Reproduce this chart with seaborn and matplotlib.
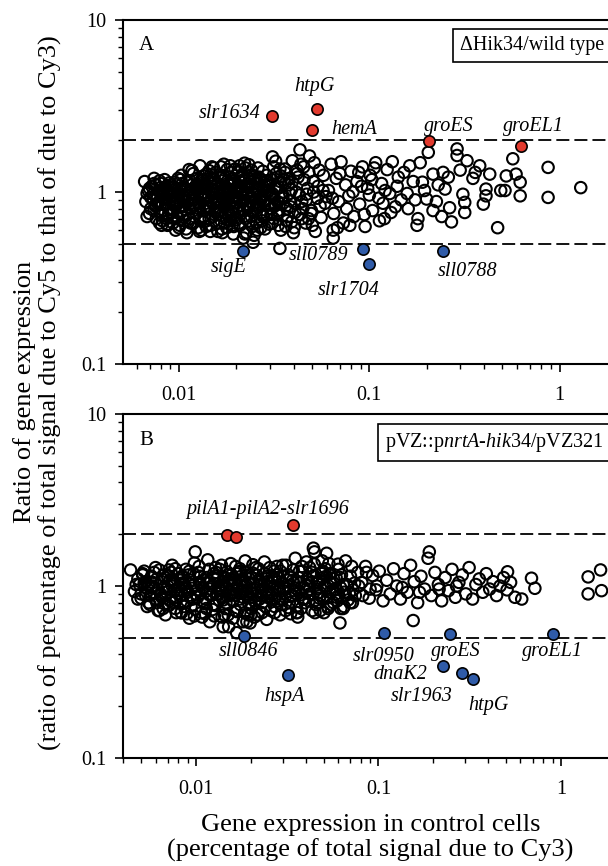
import numpy as np
import seaborn as sns
import matplotlib
matplotlib.use("Agg")
import matplotlib.pyplot as plt
from matplotlib.ticker import FuncFormatter, LogLocator

# ---------------- Panel A data (dHik34 / wild type) ----------------
a_x = [
    0.0066, 0.0068, 0.0070, 0.0071, 0.0073, 0.0074, 0.0076, 0.0078, 0.0079, 0.0081,
    0.0082, 0.0084, 0.0085, 0.0087, 0.0088, 0.0090, 0.0091, 0.0093, 0.0094, 0.0096,
    0.0067, 0.0072, 0.0077, 0.0080, 0.0083, 0.0086, 0.0089, 0.0092, 0.0095, 0.0098,
    0.0069, 0.0075, 0.0079, 0.0084, 0.0087, 0.0091, 0.0094, 0.0097, 0.0099, 0.0100,
    0.0101, 0.0103, 0.0105, 0.0107, 0.0109, 0.0111, 0.0113, 0.0115, 0.0117, 0.0119,
    0.0121, 0.0123, 0.0125, 0.0127, 0.0129, 0.0131, 0.0133, 0.0135, 0.0137, 0.0140,
    0.0142, 0.0145, 0.0147, 0.0150, 0.0152, 0.0155, 0.0157, 0.0160, 0.0162, 0.0165,
    0.0167, 0.0170, 0.0172, 0.0175, 0.0178, 0.0180, 0.0183, 0.0186, 0.0189, 0.0192,
    0.0195, 0.0198, 0.0104, 0.0112, 0.0118, 0.0126, 0.0134, 0.0141, 0.0148, 0.0156,
    0.0163, 0.0171, 0.0179, 0.0187, 0.0194, 0.0108, 0.0122, 0.0138, 0.0153, 0.0168,
    0.0181, 0.0196, 0.0114, 0.0129, 0.0144, 0.0159, 0.0174, 0.0190, 0.0106, 0.0136,
    0.0201, 0.0205, 0.0209, 0.0213, 0.0217, 0.0221, 0.0226, 0.0230, 0.0235, 0.0240,
    0.0245, 0.0250, 0.0255, 0.0260, 0.0266, 0.0271, 0.0277, 0.0283, 0.0289, 0.0295,
    0.0301, 0.0308, 0.0315, 0.0322, 0.0329, 0.0336, 0.0343, 0.0203, 0.0219, 0.0238,
    0.0253, 0.0269, 0.0286, 0.0304, 0.0324, 0.0211, 0.0232, 0.0248, 0.0263, 0.0280,
    0.0298, 0.0318, 0.0339, 0.0224, 0.0258, 0.0292, 0.0331, 0.0216, 0.0274, 0.0312,
    0.0245, 0.0339, 0.0218, 0.0432, 0.0310, 0.0646, 0.0646,
    0.0352, 0.0360, 0.0368, 0.0376, 0.0385, 0.0394, 0.0403, 0.0412, 0.0422, 0.0432,
    0.0442, 0.0452, 0.0463, 0.0474, 0.0485, 0.0496, 0.0508, 0.0520, 0.0532, 0.0545,
    0.0558, 0.0571, 0.0585, 0.0356, 0.0381, 0.0407, 0.0437, 0.0468, 0.0502, 0.0538,
    0.0574, 0.0364, 0.0390, 0.0417, 0.0447, 0.0479, 0.0514, 0.0551, 0.0592, 0.0399,
    0.061, 0.063, 0.065, 0.067, 0.069, 0.071, 0.073, 0.075, 0.078, 0.080,
    0.083, 0.086, 0.089, 0.092, 0.095, 0.098, 0.101, 0.104, 0.108, 0.112,
    0.116, 0.120, 0.124, 0.128, 0.132, 0.137, 0.142, 0.147, 0.064, 0.070,
    0.076, 0.082, 0.088, 0.094, 0.100, 0.106, 0.113, 0.121, 0.130, 0.140,
    0.068, 0.079, 0.091, 0.103, 0.118,
    0.152, 0.158, 0.163, 0.170, 0.174, 0.178, 0.180, 0.190, 0.200, 0.204,
    0.216, 0.216, 0.244, 0.250, 0.264, 0.270, 0.289, 0.289, 0.310, 0.317,
    0.317, 0.326, 0.380, 0.397, 0.410, 0.410, 0.429, 0.472, 0.490, 0.516,
    0.524, 0.567, 0.590, 0.620, 0.620, 0.869, 0.869, 1.290, 0.230, 0.350,
    0.185, 0.225, 0.260, 0.300, 0.160, 0.195, 0.240, 0.360,
    # denser core
    0.0070, 0.0073, 0.0076, 0.0079, 0.0082, 0.0085, 0.0088, 0.0091, 0.0094, 0.0097,
    0.0071, 0.0074, 0.0077, 0.0080, 0.0083, 0.0086, 0.0089, 0.0092, 0.0095, 0.0098,
    0.0102, 0.0106, 0.0110, 0.0114, 0.0118, 0.0122, 0.0126, 0.0130, 0.0134, 0.0138,
    0.0103, 0.0107, 0.0111, 0.0115, 0.0119, 0.0123, 0.0127, 0.0131, 0.0135, 0.0139,
    0.0143, 0.0147, 0.0151, 0.0155, 0.0159, 0.0163, 0.0167, 0.0171, 0.0175, 0.0179,
    0.0144, 0.0148, 0.0152, 0.0156, 0.0160, 0.0164, 0.0168, 0.0172, 0.0176, 0.0180,
    0.0184, 0.0188, 0.0192, 0.0196, 0.0200, 0.0205, 0.0210, 0.0215, 0.0220, 0.0225,
    0.0185, 0.0189, 0.0193, 0.0197, 0.0202, 0.0207, 0.0212, 0.0218, 0.0223, 0.0229,
    0.0231, 0.0237, 0.0243, 0.0249, 0.0256, 0.0263, 0.0270, 0.0277, 0.0284, 0.0291,
    0.0234, 0.0241, 0.0248, 0.0255, 0.0262, 0.0269, 0.0276, 0.0283, 0.0290, 0.0297,
    0.0300, 0.0308, 0.0316, 0.0325, 0.0334, 0.0343, 0.0352, 0.0362, 0.0372, 0.0382,
    0.0306, 0.0314, 0.0323, 0.0332, 0.0341, 0.0350, 0.0360, 0.0370, 0.0380, 0.0391,
    0.0393, 0.0405, 0.0417, 0.0429, 0.0441, 0.0454, 0.0467, 0.0481, 0.0495, 0.0510,
    0.0074, 0.0087, 0.0101, 0.0117, 0.0132, 0.0149, 0.0166, 0.0186, 0.0208, 0.0233,
    0.0068, 0.0081, 0.0096, 0.0110, 0.0128, 0.0146, 0.0169, 0.0193, 0.0222, 0.0258,
    0.0075, 0.0078, 0.0081, 0.0084, 0.0087, 0.0090, 0.0093, 0.0096, 0.0099, 0.0102,
    0.0105, 0.0108, 0.0111, 0.0114, 0.0117, 0.0120, 0.0124, 0.0128, 0.0132, 0.0136,
    0.0140, 0.0144, 0.0148, 0.0153, 0.0158, 0.0163, 0.0168, 0.0173, 0.0178, 0.0183,
    0.0188, 0.0194, 0.0200, 0.0206, 0.0212, 0.0218, 0.0224, 0.0231, 0.0238, 0.0245,
    0.0252, 0.0259, 0.0267, 0.0275, 0.0283, 0.0291, 0.0300, 0.0309, 0.0318, 0.0328,
    0.0120, 0.0135, 0.0150, 0.0165, 0.0180, 0.0195, 0.0210, 0.0225, 0.0240, 0.0255,
    0.0115, 0.0130, 0.0145, 0.0160, 0.0175, 0.0190, 0.0205, 0.0220, 0.0235, 0.0250,
]
a_y = [
    1.15, 0.98, 1.05, 0.80, 0.92, 1.12, 0.70, 0.87, 1.02, 0.95,
    0.68, 1.18, 0.84, 1.00, 0.74, 0.90, 1.10, 0.66, 0.96, 0.82,
    0.88, 1.08, 0.94, 0.76, 1.04, 0.70, 0.99, 0.86, 1.14, 0.72,
    1.02, 0.84, 1.16, 0.92, 0.64, 1.06, 0.78, 0.93, 1.20, 0.62,
    0.88, 1.25, 0.72, 1.02, 0.61, 0.95, 1.35, 0.80, 1.10, 0.66,
    0.98, 0.75, 1.20, 0.86, 1.42, 0.60, 1.05, 0.92, 0.70, 1.28,
    0.83, 1.15, 0.64, 0.97, 1.38, 0.77, 1.08, 0.59, 0.90, 1.22,
    0.73, 1.00, 1.45, 0.85, 0.62, 1.12, 0.94, 0.68, 1.30, 0.81,
    1.04, 0.71, 1.12, 0.84, 0.93, 1.06, 0.67, 1.18, 0.89, 1.01,
    0.78, 1.24, 0.96, 1.09, 0.63, 0.79, 0.91, 0.82, 1.13, 0.87,
    0.74, 1.16, 1.03, 0.69, 1.33, 0.99, 0.66, 0.89, 0.95, 1.07,
    0.92, 1.32, 0.64, 1.08, 0.79, 1.47, 0.58, 0.99, 1.20, 0.72,
    0.86, 1.12, 0.67, 1.38, 0.95, 0.76, 1.04, 0.61, 1.25, 0.84,
    0.97, 1.18, 0.70, 1.51, 0.88, 1.06, 0.60, 1.02, 0.89, 1.14,
    0.80, 0.93, 1.16, 0.74, 1.28, 1.22, 0.82, 0.56, 1.00, 0.90,
    0.65, 0.83, 1.36, 0.70, 1.05, 1.10, 0.78, 1.01, 0.68, 0.94,
    0.51, 0.47, 0.54, 1.76, 1.60, 0.54, 0.60,
    0.95, 1.30, 0.68, 1.10, 0.82, 1.52, 0.62, 1.00, 1.22, 0.74,
    0.88, 1.40, 0.66, 1.05, 1.62, 0.78, 1.15, 0.59, 0.92, 1.34,
    0.71, 1.02, 0.86, 1.18, 0.89, 0.76, 1.45, 0.97, 0.64, 1.08,
    1.25, 0.63, 1.03, 1.28, 0.80, 0.70, 1.48, 0.83, 0.94, 0.58,
    1.02, 1.45, 0.75, 1.20, 0.88, 1.50, 0.66, 1.10, 0.95, 1.32,
    0.72, 1.15, 0.85, 1.40, 0.63, 1.05, 1.25, 0.78, 1.48, 0.92,
    1.12, 0.70, 1.35, 0.98, 1.50, 0.82, 1.22, 0.90, 0.92, 1.28,
    0.80, 1.00, 1.30, 0.74, 0.96, 1.38, 0.68, 1.02, 0.76, 1.08,
    0.62, 0.64, 1.08, 1.18, 0.86,
    1.30, 0.98, 1.42, 1.15, 0.90, 0.64, 0.70, 1.14, 0.91, 1.70,
    1.27, 0.78, 1.30, 1.04, 0.81, 0.67, 1.78, 1.63, 0.97, 0.76,
    0.87, 1.52, 1.42, 0.85, 1.04, 0.95, 1.27, 0.62, 1.02, 1.02,
    1.24, 1.56, 1.27, 1.14, 0.95, 1.39, 0.93, 1.06, 1.10, 1.20,
    1.48, 0.88, 1.22, 1.34, 0.80, 1.02, 0.72, 1.30,
    # denser core
    0.75, 0.97, 1.10, 0.66, 0.85, 1.07, 0.80, 0.95, 0.70, 1.05,
    0.93, 0.78, 0.86, 1.12, 0.98, 0.92, 1.13, 0.76, 0.88, 0.99,
    0.76, 0.93, 1.15, 0.70, 0.84, 1.08, 0.62, 0.96, 1.24, 0.86,
    1.05, 0.68, 0.88, 0.99, 1.28, 0.81, 1.00, 1.12, 0.78, 0.63,
    0.95, 1.26, 0.72, 0.88, 1.04, 0.66, 1.16, 0.92, 0.76, 1.35,
    0.70, 1.03, 0.86, 1.30, 0.74, 0.99, 0.61, 0.82, 1.06, 0.90,
    1.02, 0.77, 1.20, 0.94, 0.69, 1.08, 0.84, 1.26, 0.72, 0.97,
    0.86, 1.10, 0.75, 1.36, 0.99, 0.66, 1.14, 0.93, 1.38, 0.80,
    1.06, 0.88, 0.63, 1.18, 0.78, 1.22, 0.90, 0.72, 1.09, 0.99,
    0.68, 1.26, 0.96, 0.84, 1.12, 0.62, 1.32, 0.88, 0.74, 1.02,
    1.12, 0.66, 0.92, 1.04, 0.76, 1.24, 0.86, 1.12, 0.72, 0.98,
    0.80, 1.40, 0.84, 0.64, 1.15, 0.92, 1.36, 0.80, 1.20, 0.67,
    1.14, 0.86, 1.34, 0.96, 0.70, 1.18, 0.90, 1.30, 0.75, 1.00,
    1.20, 0.65, 0.64, 1.33, 1.18, 1.40, 1.40, 1.42, 1.42, 1.44,
    0.72, 0.64, 0.60, 0.58, 0.59, 0.59, 0.58, 0.57, 0.57, 0.60,
    0.83, 1.01, 0.73, 0.91, 1.09, 0.79, 1.03, 0.87, 0.96, 1.18,
    0.82, 1.04, 0.74, 1.16, 0.90, 0.72, 1.02, 0.83, 1.09, 0.94,
    1.08, 0.82, 0.99, 1.19, 0.81, 0.88, 1.22, 1.04, 0.69, 0.98,
    0.73, 1.12, 0.87, 0.76, 1.02, 1.18, 0.85, 1.12, 0.94, 0.76,
    1.03, 0.87, 1.18, 0.74, 0.96, 1.16, 0.84, 0.98, 1.06, 0.74,
    0.90, 0.72, 1.04, 0.78, 1.16, 0.90, 0.98, 1.08, 1.34, 0.66,
    0.66, 1.15, 0.80, 1.12, 0.93, 0.64, 1.30, 0.78, 0.82, 1.23,
]
a_up_genes = ["slr1634", "htpG", "hemA", "groES", "groEL1"]
a_up_x = [0.0309, 0.0528, 0.0501, 0.206, 0.63]
a_up_y = [2.78, 3.05, 2.30, 1.98, 1.86]
a_down_genes = ["sigE", "sll0789", "slr1704", "sll0788"]
a_down_x = [0.0218, 0.0928, 0.099, 0.244]
a_down_y = [0.456, 0.466, 0.381, 0.452]

# ---------------- Panel B data (pVZ::pnrtA-hik34 / pVZ321) ----------------
b_x = [
    0.0046, 0.0048, 0.0050, 0.0052, 0.0054, 0.0056, 0.0058, 0.0060, 0.0062, 0.0064,
    0.0066, 0.0068, 0.0070, 0.0072, 0.0074, 0.0076, 0.0078, 0.0080, 0.0082, 0.0084,
    0.0086, 0.0088, 0.0090, 0.0092, 0.0094, 0.0096, 0.0098, 0.0049, 0.0053, 0.0057,
    0.0061, 0.0065, 0.0069, 0.0073, 0.0077, 0.0081, 0.0085, 0.0089, 0.0093, 0.0097,
    0.0051, 0.0059, 0.0067, 0.0075, 0.0083, 0.0091, 0.0099, 0.0055, 0.0071, 0.0087,
    0.0101, 0.0104, 0.0107, 0.0110, 0.0113, 0.0116, 0.0119, 0.0122, 0.0125, 0.0128,
    0.0131, 0.0135, 0.0139, 0.0143, 0.0147, 0.0151, 0.0155, 0.0159, 0.0163, 0.0167,
    0.0171, 0.0176, 0.0181, 0.0186, 0.0191, 0.0196, 0.0201, 0.0207, 0.0213, 0.0219,
    0.0225, 0.0231, 0.0237, 0.0243, 0.0250, 0.0257, 0.0264, 0.0271, 0.0278, 0.0286,
    0.0294, 0.0106, 0.0118, 0.0133, 0.0149, 0.0165, 0.0184, 0.0204, 0.0228, 0.0254,
    0.0282, 0.0112, 0.0127, 0.0141, 0.0157, 0.0174, 0.0194, 0.0216, 0.0240, 0.0268,
    0.0115, 0.0137, 0.0161, 0.0189, 0.0222, 0.0260, 0.0145, 0.0178, 0.0210, 0.0247,
    0.0099, 0.00438, 0.0141, 0.0167, 0.0190, 0.0198,
    0.0302, 0.0311, 0.0320, 0.0330, 0.0340, 0.0350, 0.0361, 0.0372, 0.0383, 0.0395,
    0.0407, 0.0420, 0.0433, 0.0446, 0.0460, 0.0474, 0.0488, 0.0503, 0.0519, 0.0535,
    0.0551, 0.0568, 0.0586, 0.0604, 0.0622, 0.0641, 0.0661, 0.0682, 0.0703, 0.0725,
    0.0747, 0.0770, 0.0316, 0.0345, 0.0378, 0.0413, 0.0453, 0.0496, 0.0543, 0.0595,
    0.0651, 0.0714, 0.0356, 0.0440, 0.0527, 0.0440, 0.0520, 0.0615,
    0.081, 0.085, 0.089, 0.093, 0.097, 0.101, 0.106, 0.111, 0.116, 0.121,
    0.126, 0.132, 0.138, 0.144, 0.150, 0.157, 0.164, 0.171, 0.179, 0.187,
    0.195, 0.204, 0.213, 0.222, 0.232, 0.242, 0.253, 0.264, 0.276, 0.288,
    0.301, 0.314, 0.328, 0.342, 0.357, 0.373, 0.390, 0.407, 0.425, 0.444,
    0.464, 0.485, 0.507, 0.530, 0.560, 0.098, 0.135, 0.168, 0.215, 0.268,
    0.155, 0.190, 0.510, 0.610, 0.690, 0.720, 1.41, 1.65, 1.41, 1.67,
    # denser core
    0.0047, 0.0050, 0.0053, 0.0056, 0.0059, 0.0062, 0.0065, 0.0068, 0.0071, 0.0074,
    0.0048, 0.0051, 0.0054, 0.0057, 0.0060, 0.0063, 0.0066, 0.0069, 0.0072, 0.0075,
    0.0077, 0.0080, 0.0083, 0.0086, 0.0089, 0.0092, 0.0095, 0.0098, 0.0078, 0.0084,
    0.0102, 0.0106, 0.0110, 0.0114, 0.0118, 0.0122, 0.0126, 0.0130, 0.0134, 0.0138,
    0.0103, 0.0108, 0.0113, 0.0118, 0.0123, 0.0128, 0.0133, 0.0138, 0.0143, 0.0148,
    0.0142, 0.0146, 0.0150, 0.0155, 0.0160, 0.0165, 0.0170, 0.0175, 0.0180, 0.0185,
    0.0153, 0.0158, 0.0164, 0.0169, 0.0175, 0.0181, 0.0187, 0.0193, 0.0199, 0.0205,
    0.0190, 0.0196, 0.0202, 0.0209, 0.0216, 0.0223, 0.0230, 0.0238, 0.0246, 0.0254,
    0.0212, 0.0220, 0.0228, 0.0236, 0.0244, 0.0252, 0.0261, 0.0270, 0.0279, 0.0289,
    0.0262, 0.0271, 0.0280, 0.0290, 0.0300, 0.0310, 0.0321, 0.0332, 0.0343, 0.0355,
    0.0298, 0.0308, 0.0319, 0.0330, 0.0341, 0.0353, 0.0365, 0.0377, 0.0390, 0.0403,
    0.0367, 0.0380, 0.0393, 0.0406, 0.0420, 0.0434, 0.0449, 0.0464, 0.0480, 0.0496,
    0.0416, 0.0430, 0.0445, 0.0460, 0.0476, 0.0492, 0.0509, 0.0526, 0.0544, 0.0562,
    0.0512, 0.0530, 0.0548, 0.0567, 0.0586, 0.0606, 0.0627, 0.0648, 0.0670, 0.0693,
    0.0580, 0.0600, 0.0620, 0.0660, 0.0700, 0.0740, 0.0780, 0.0820, 0.0860, 0.0900,
    0.0052, 0.0055, 0.0058, 0.0061, 0.0064, 0.0067, 0.0070, 0.0073, 0.0076, 0.0079,
    0.0082, 0.0085, 0.0088, 0.0091, 0.0094, 0.0097, 0.0100, 0.0105, 0.0109, 0.0114,
    0.0119, 0.0124, 0.0129, 0.0135, 0.0141, 0.0147, 0.0153, 0.0160, 0.0167, 0.0174,
    0.0181, 0.0189, 0.0197, 0.0205, 0.0214, 0.0223, 0.0233, 0.0243, 0.0253, 0.0264,
    0.0275, 0.0287, 0.0299, 0.0312, 0.0325, 0.0339, 0.0354, 0.0369, 0.0385, 0.0402,
    0.0419, 0.0437, 0.0456, 0.0476, 0.0497, 0.0519, 0.0542, 0.0566, 0.0591, 0.0617,
    0.0063, 0.0083, 0.0112, 0.0150, 0.0200, 0.0270, 0.0360, 0.0480, 0.0640, 0.0720,
]
b_y = [
    0.93, 1.10, 0.85, 1.22, 0.97, 0.78, 1.05, 1.28, 0.72, 0.90,
    1.15, 0.68, 1.00, 0.82, 1.32, 0.94, 0.70, 1.18, 0.88, 1.04,
    0.76, 1.25, 0.92, 0.65, 1.08, 0.84, 1.36, 1.02, 0.88, 1.14,
    0.80, 1.06, 0.96, 1.20, 0.74, 0.99, 1.12, 0.69, 0.86, 1.01,
    1.16, 0.91, 0.79, 1.09, 0.94, 1.16, 0.73, 1.00, 1.24, 0.97,
    0.95, 1.30, 0.70, 1.08, 0.84, 1.42, 0.62, 1.00, 1.18, 0.77,
    0.90, 1.25, 0.66, 1.12, 0.98, 0.58, 1.35, 0.82, 1.05, 0.71,
    1.20, 0.93, 0.62, 1.40, 0.87, 1.10, 0.74, 0.96, 1.28, 0.68,
    1.02, 0.80, 1.38, 0.90, 1.15, 0.72, 1.06, 0.85, 1.30, 0.95,
    0.78, 1.02, 0.89, 0.97, 1.07, 0.88, 1.01, 1.19, 0.93, 0.99,
    1.12, 0.79, 1.14, 0.83, 1.16, 1.26, 0.80, 0.88, 0.76, 1.22,
    1.05, 1.00, 0.91, 0.95, 1.09, 0.83, 0.74, 1.04, 0.82, 1.06,
    1.58, 1.24, 0.58, 0.535, 0.62, 0.61,
    0.98, 1.32, 0.75, 1.12, 0.88, 1.45, 0.66, 1.04, 1.22, 0.80,
    0.93, 1.28, 0.72, 1.58, 1.06, 0.85, 1.18, 0.70, 0.97, 1.35,
    0.78, 1.10, 0.90, 1.25, 0.74, 1.02, 1.40, 0.83, 1.14, 0.95,
    0.88, 1.20, 1.08, 0.94, 0.89, 1.00, 0.78, 1.22, 1.05, 0.82,
    0.92, 1.30, 0.70, 1.14, 0.76, 1.66, 1.55, 0.61,
    1.05, 1.30, 0.85, 1.15, 0.95, 1.22, 0.82, 1.08, 0.90, 1.26,
    1.00, 0.84, 1.18, 0.92, 1.32, 1.06, 0.80, 1.14, 0.96, 1.45,
    0.88, 1.20, 1.02, 0.82, 1.12, 0.94, 1.25, 0.86, 1.05, 1.16,
    0.90, 1.28, 0.84, 1.02, 1.10, 0.92, 1.18, 0.96, 1.06, 0.88,
    1.00, 1.12, 0.95, 1.05, 0.86, 1.00, 0.98, 0.92, 0.96, 1.00,
    0.63, 1.58, 1.21, 0.84, 1.11, 0.97, 1.13, 1.24, 0.90, 0.94,
    # denser core
    1.02, 0.90, 1.06, 0.88, 1.20, 0.95, 0.86, 1.12, 0.77, 1.00,
    0.84, 1.18, 0.76, 0.99, 0.84, 1.24, 0.74, 0.92, 1.08, 0.80,
    1.26, 0.90, 0.70, 1.02, 0.82, 1.22, 0.97, 0.67, 0.83, 1.14,
    0.86, 1.14, 0.97, 0.74, 1.25, 0.89, 0.67, 1.10, 0.83, 1.32,
    1.20, 0.66, 0.93, 1.04, 0.73, 1.28, 1.00, 0.87, 0.68, 1.21,
    1.02, 0.80, 1.16, 0.92, 0.65, 1.30, 0.96, 0.78, 1.08, 0.70,
    0.88, 1.08, 0.72, 1.00, 1.22, 0.86, 1.15, 0.68, 0.92, 1.33,
    1.01, 0.78, 1.12, 0.66, 0.97, 1.06, 0.70, 1.18, 0.86, 1.28,
    0.80, 1.26, 0.88, 1.02, 0.64, 0.92, 1.14, 0.76, 0.98, 0.68,
    0.90, 1.10, 0.82, 1.22, 0.94, 0.72, 1.16, 0.88, 1.04, 0.76,
    1.32, 0.86, 1.00, 0.69, 1.24, 0.97, 1.12, 0.74, 0.98, 1.38,
    0.92, 1.30, 0.84, 1.10, 0.96, 1.20, 0.70, 1.04, 0.88, 1.12,
    0.82, 1.06, 1.34, 0.80, 0.92, 1.40, 1.00, 0.86, 1.18, 0.94,
    1.26, 0.74, 1.04, 0.80, 1.12, 0.88, 1.16, 0.76, 1.02, 0.90,
    0.96, 1.34, 0.98, 0.88, 0.80, 1.04, 1.00, 0.88, 1.20, 0.96,
    1.04, 0.80, 1.00, 1.10, 0.88, 0.98, 1.14, 0.86, 1.06, 0.94,
    1.08, 0.80, 0.98, 1.04, 0.76, 1.18, 0.90, 1.05, 0.82, 1.12,
    0.96, 0.78, 1.20, 0.94, 1.06, 0.88, 1.10, 0.96, 1.18, 0.84,
    0.94, 1.20, 0.86, 1.04, 1.16, 0.84, 0.96, 1.10, 1.04, 0.90,
    1.16, 0.84, 1.04, 0.96, 0.80, 1.08, 0.90, 1.22, 0.84, 1.02,
    0.90, 1.14, 0.96, 1.08, 0.84, 1.14, 0.92, 1.04, 0.86, 1.12,
    0.72, 0.70, 0.69, 0.68, 0.68, 0.70, 0.70, 0.72, 0.74, 0.80,
]
b_up_genes = ["pilA1", "pilA2", "slr1696"]
b_up_x = [0.0147, 0.0165, 0.034]
b_up_y = [1.98, 1.94, 2.26]
b_down_genes = ["sll0846", "hspA", "slr0950", "groES", "dnaK2", "slr1963", "htpG", "groEL1"]
b_down_x = [0.0184, 0.032, 0.1076, 0.2465, 0.2266, 0.288, 0.33, 0.90]
b_down_y = [0.51, 0.304, 0.535, 0.526, 0.343, 0.313, 0.287, 0.526]

RED = "#e23a2e"
BLUE = "#2f5ba8"

sns.set_theme(style="ticks")
plt.rcParams["font.family"] = ["Liberation Serif", "DejaVu Serif"]
plt.rcParams["mathtext.fontset"] = "custom"
plt.rcParams["mathtext.rm"] = "Liberation Serif"
plt.rcParams["mathtext.it"] = "Liberation Serif:italic"
for key in ("text.color", "axes.labelcolor", "xtick.color", "ytick.color", "axes.edgecolor"):
    plt.rcParams[key] = "black"

fig = plt.figure(figsize=(6.08, 8.66), dpi=100)
ax_a = fig.add_axes([0.2023, 0.5797, 0.8125, 0.3972])
ax_b = fig.add_axes([0.2023, 0.1247, 0.8125, 0.3972])


def style_axis(ax, xlim):
    ax.set_xscale("log")
    ax.set_yscale("log")
    ax.set_xlim(*xlim)
    ax.set_ylim(0.1, 10)
    fmt = FuncFormatter(lambda v, p: f"{v:g}")
    ax.xaxis.set_major_formatter(fmt)
    ax.yaxis.set_major_formatter(fmt)
    ax.xaxis.set_major_locator(LogLocator(base=10, numticks=10))
    ax.tick_params(which="major", direction="out", length=6, width=1.2,
                   labelsize=14.5, colors="black", pad=6)
    ax.tick_params(which="minor", direction="out", length=3.5, width=1.0)
    ax.tick_params(axis="x", which="major", pad=10)
    for sp in ax.spines.values():
        sp.set_visible(True)
        sp.set_linewidth(1.5)
        sp.set_color("black")
    for yv in (2, 0.5):
        ax.axhline(yv, color="black", lw=1.3, ls=(0, (7.2, 2.8)), zorder=1)
    ax.set_xlabel("")
    ax.set_ylabel("")


def draw_points(ax, xs, ys, up_x, up_y, dn_x, dn_y):
    # open circles: outlines pile up into the dark core as in the original
    sns.scatterplot(x=xs, y=ys, ax=ax, s=68, color="none", edgecolor="black",
                    linewidth=1.5, zorder=2, legend=False)
    sns.scatterplot(x=up_x, y=up_y, ax=ax, s=66, color=RED, edgecolor="black",
                    linewidth=1.2, zorder=3, legend=False)
    sns.scatterplot(x=dn_x, y=dn_y, ax=ax, s=66, color=BLUE, edgecolor="black",
                    linewidth=1.2, zorder=3, legend=False)


# Panel A
draw_points(ax_a, a_x, a_y, a_up_x, a_up_y, a_down_x, a_down_y)
style_axis(ax_a, (0.00508, 2.0))
lab = dict(fontsize=14.5, style="italic", zorder=4)
ax_a.text(0.0268, 2.85, "slr1634", ha="right", va="center", **lab)
ax_a.text(0.0517, 4.08, "htpG", ha="center", va="center", **lab)
ax_a.text(0.0633, 2.32, "hemA", ha="left", va="center", **lab)
ax_a.text(0.261, 2.41, "groES", ha="center", va="center", **lab)
ax_a.text(0.724, 2.41, "groEL1", ha="center", va="center", **lab)
ax_a.text(0.0183, 0.365, "sigE", ha="center", va="center", **lab)
ax_a.text(0.0539, 0.426, "sll0789", ha="center", va="center", **lab)
ax_a.text(0.078, 0.267, "slr1704", ha="center", va="center", **lab)
ax_a.text(0.327, 0.346, "sll0788", ha="center", va="center", **lab)
ax_a.text(0.048, 0.927, "A", transform=ax_a.transAxes, ha="center", va="center",
          fontsize=15)
ax_a.text(0.682, 0.927, "\u0394Hik34/wild type", transform=ax_a.transAxes,
          ha="left", va="center", fontsize=14.5,
          bbox=dict(boxstyle="square,pad=0.35", fc="white", ec="black", lw=1.2))

# Panel B
draw_points(ax_b, b_x, b_y, b_up_x, b_up_y, b_down_x, b_down_y)
style_axis(ax_b, (0.00398, 2.03))
ax_b.text(0.0246, 2.77, "pilA1-pilA2-slr1696", ha="center", va="center", **lab)
ax_b.text(0.01935, 0.415, "sll0846", ha="center", va="center", **lab)
ax_b.text(0.0307, 0.227, "hspA", ha="center", va="center", **lab)
ax_b.text(0.107, 0.388, "slr0950", ha="center", va="center", **lab)
ax_b.text(0.2646, 0.415, "groES", ha="center", va="center", **lab)
ax_b.text(0.132, 0.304, "dnaK2", ha="center", va="center", **lab)
ax_b.text(0.173, 0.227, "slr1963", ha="center", va="center", **lab)
ax_b.text(0.40, 0.203, "htpG", ha="center", va="center", **lab)
ax_b.text(0.904, 0.415, "groEL1", ha="center", va="center", **lab)
ax_b.text(0.0466, 0.924, "B", transform=ax_b.transAxes, ha="center", va="center",
          fontsize=15)
ax_b.text(0.530, 0.916, r"pVZ::p$\mathit{nrtA}$-$\mathit{hik34}$/pVZ321",
          transform=ax_b.transAxes, ha="left", va="center", fontsize=14.5,
          bbox=dict(boxstyle="square,pad=0.35", fc="white", ec="black", lw=1.2))

# shared axis titles
fig.text(0.062, 0.547,
         "Ratio of gene expression\n(ratio of percentage of total signal due to Cy5 to that of due to Cy3)",
         rotation=90, ha="center", va="center", fontsize=19, linespacing=1.15,
         multialignment="center")
fig.text(0.609, 0.032,
         "Gene expression in control cells\n(percentage of total signal due to Cy3)",
         ha="center", va="center", fontsize=19, linespacing=1.15,
         multialignment="center")

fig.savefig("out.png", dpi=100)
